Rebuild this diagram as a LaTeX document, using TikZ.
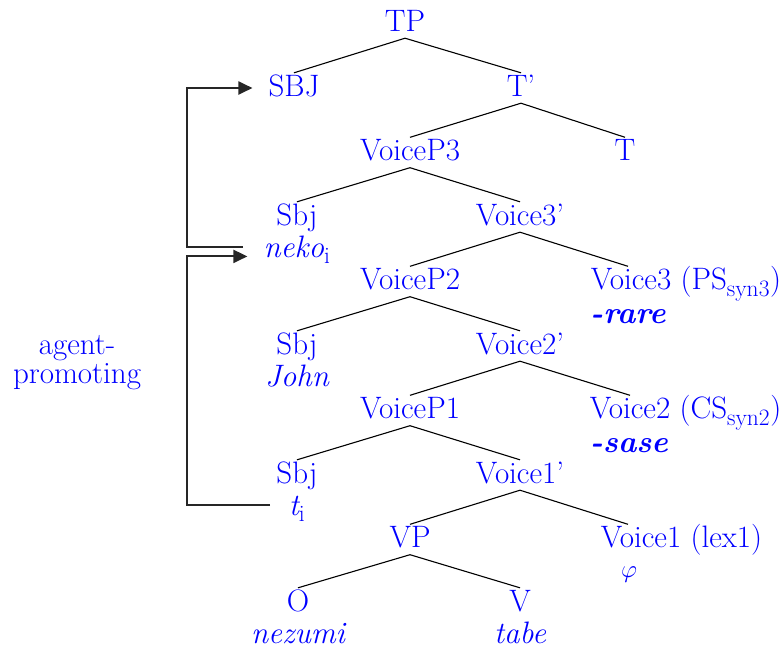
\documentclass[tikz,border=0pt]{standalone}
\usepackage{tikz}
\usetikzlibrary{arrows.meta,positioning}

\begin{document}
\begin{tikzpicture}[
    x=1pt, y=-1pt, % pixel-like units, y runs downward
    font=\fontsize{31}{36}\selectfont, % large serif text
    cat/.style={text=blue, inner sep=2pt, text height=21pt, text depth=5pt},
    nd/.style={cat, anchor=base},
    gls/.style={cat, text depth=1pt, font=\fontsize{31}{36}\selectfont\itshape},
    line/.style={black, line width=1.1pt},
    mv/.style={line width=2pt, black!85, -{Triangle[length=14pt,width=13pt]}},
    label distance=5pt
]
\useasboundingbox (0,0) rectangle (784,649);

% Tree nodes
\node[nd] (tp) at (405,31) {TP};
\node[nd] (sbj) at (294,96) {SBJ};
\node[nd] (tbar) at (521,96) {T'};
\node[nd] (vp3) at (410,160.5) {VoiceP3};
\node[nd] (t) at (625,160.5) {T};
\node[nd] (s3) at (297,225) {Sbj};
\node[nd] (v3bar) at (520,225) {Voice3'};
\node[nd] (vp2) at (410,289.5) {VoiceP2};
\node[nd, label={[cat]right:(PS\textsubscript{\fontsize{23.5}{26}\selectfont syn3})}] (v3) at (631,289.5) {Voice3};
\node[nd] (s2) at (297,354) {Sbj};
\node[nd] (v2bar) at (520,354) {Voice2'};
\node[nd] (vp1) at (410,418.5) {VoiceP1};
\node[nd, label={[cat]right:(CS\textsubscript{\fontsize{23.5}{26}\selectfont syn2})}] (v2) at (630,418.5) {Voice2};
\node[nd] (s1) at (297,483) {Sbj};
\node[nd] (v1bar) at (520,483) {Voice1'};
\node[nd] (vp) at (410,547.5) {VP};
\node[nd, label={[cat]right:(lex1)}] (v1) at (641,547.5) {Voice1};
\node[nd] (o) at (298,611) {O};
\node[nd] (v) at (520,611) {V};

% Glosses under the heads
\node[gls, below=2pt of s3] (neko) {neko\textsubscript{\upshape\fontsize{23.5}{26}\selectfont i}};
\node[gls, below=4pt of v3, xshift=-3pt] (rare) {\bfseries -rare};
\node[gls, below=2pt of s2] (john) {John};
\node[gls, below=4pt of v2, xshift=-1pt] (sase) {\bfseries -sase};
\node[gls, below=2pt of s1] (trace) {t\textsubscript{\upshape\fontsize{23.5}{26}\selectfont i}};
\node[gls, below=0pt of v1, xshift=-12pt] (phi) {$\varphi$};
\node[gls, below=2pt of o] (nezumi) {nezumi};
\node[gls, below=2pt of v] (tabe) {tabe};

\node[text=blue, align=center, inner sep=0pt] (agent) at (77,363) {agent-\\[-7pt]promoting};

% Branches
\path[line] (tp.south) edge (sbj.north) edge (tbar.north);
\path[line] (tbar.south) edge (vp3.north) edge (t.north);
\path[line] (vp3.south) edge (s3.north) edge (v3bar.north);
\path[line] (v3bar.south) edge (vp2.north) edge ([xshift=-3pt]v3.north);
\path[line] (vp2.south) edge (s2.north) edge (v2bar.north);
\path[line] (v2bar.south) edge (vp1.north) edge (v2.north);
\path[line] (vp1.south) edge (s1.north) edge (v1bar.north);
\path[line] (v1bar.south) edge (vp.north) edge ([xshift=-13pt]v1.north);
\path[line] (vp.south) edge (o.north) edge (v.north);

% Movement arrows
\coordinate (nk) at (243,247);
\coordinate (tr) at (270,505);
\draw[mv] (nk) -- ++(-56,0) |- ([xshift=-14pt]sbj.west);
\draw[mv] (tr) -- ++(-83,0) |- ([xshift=-14pt,yshift=-9pt]neko.west);

\end{tikzpicture}
\end{document}
